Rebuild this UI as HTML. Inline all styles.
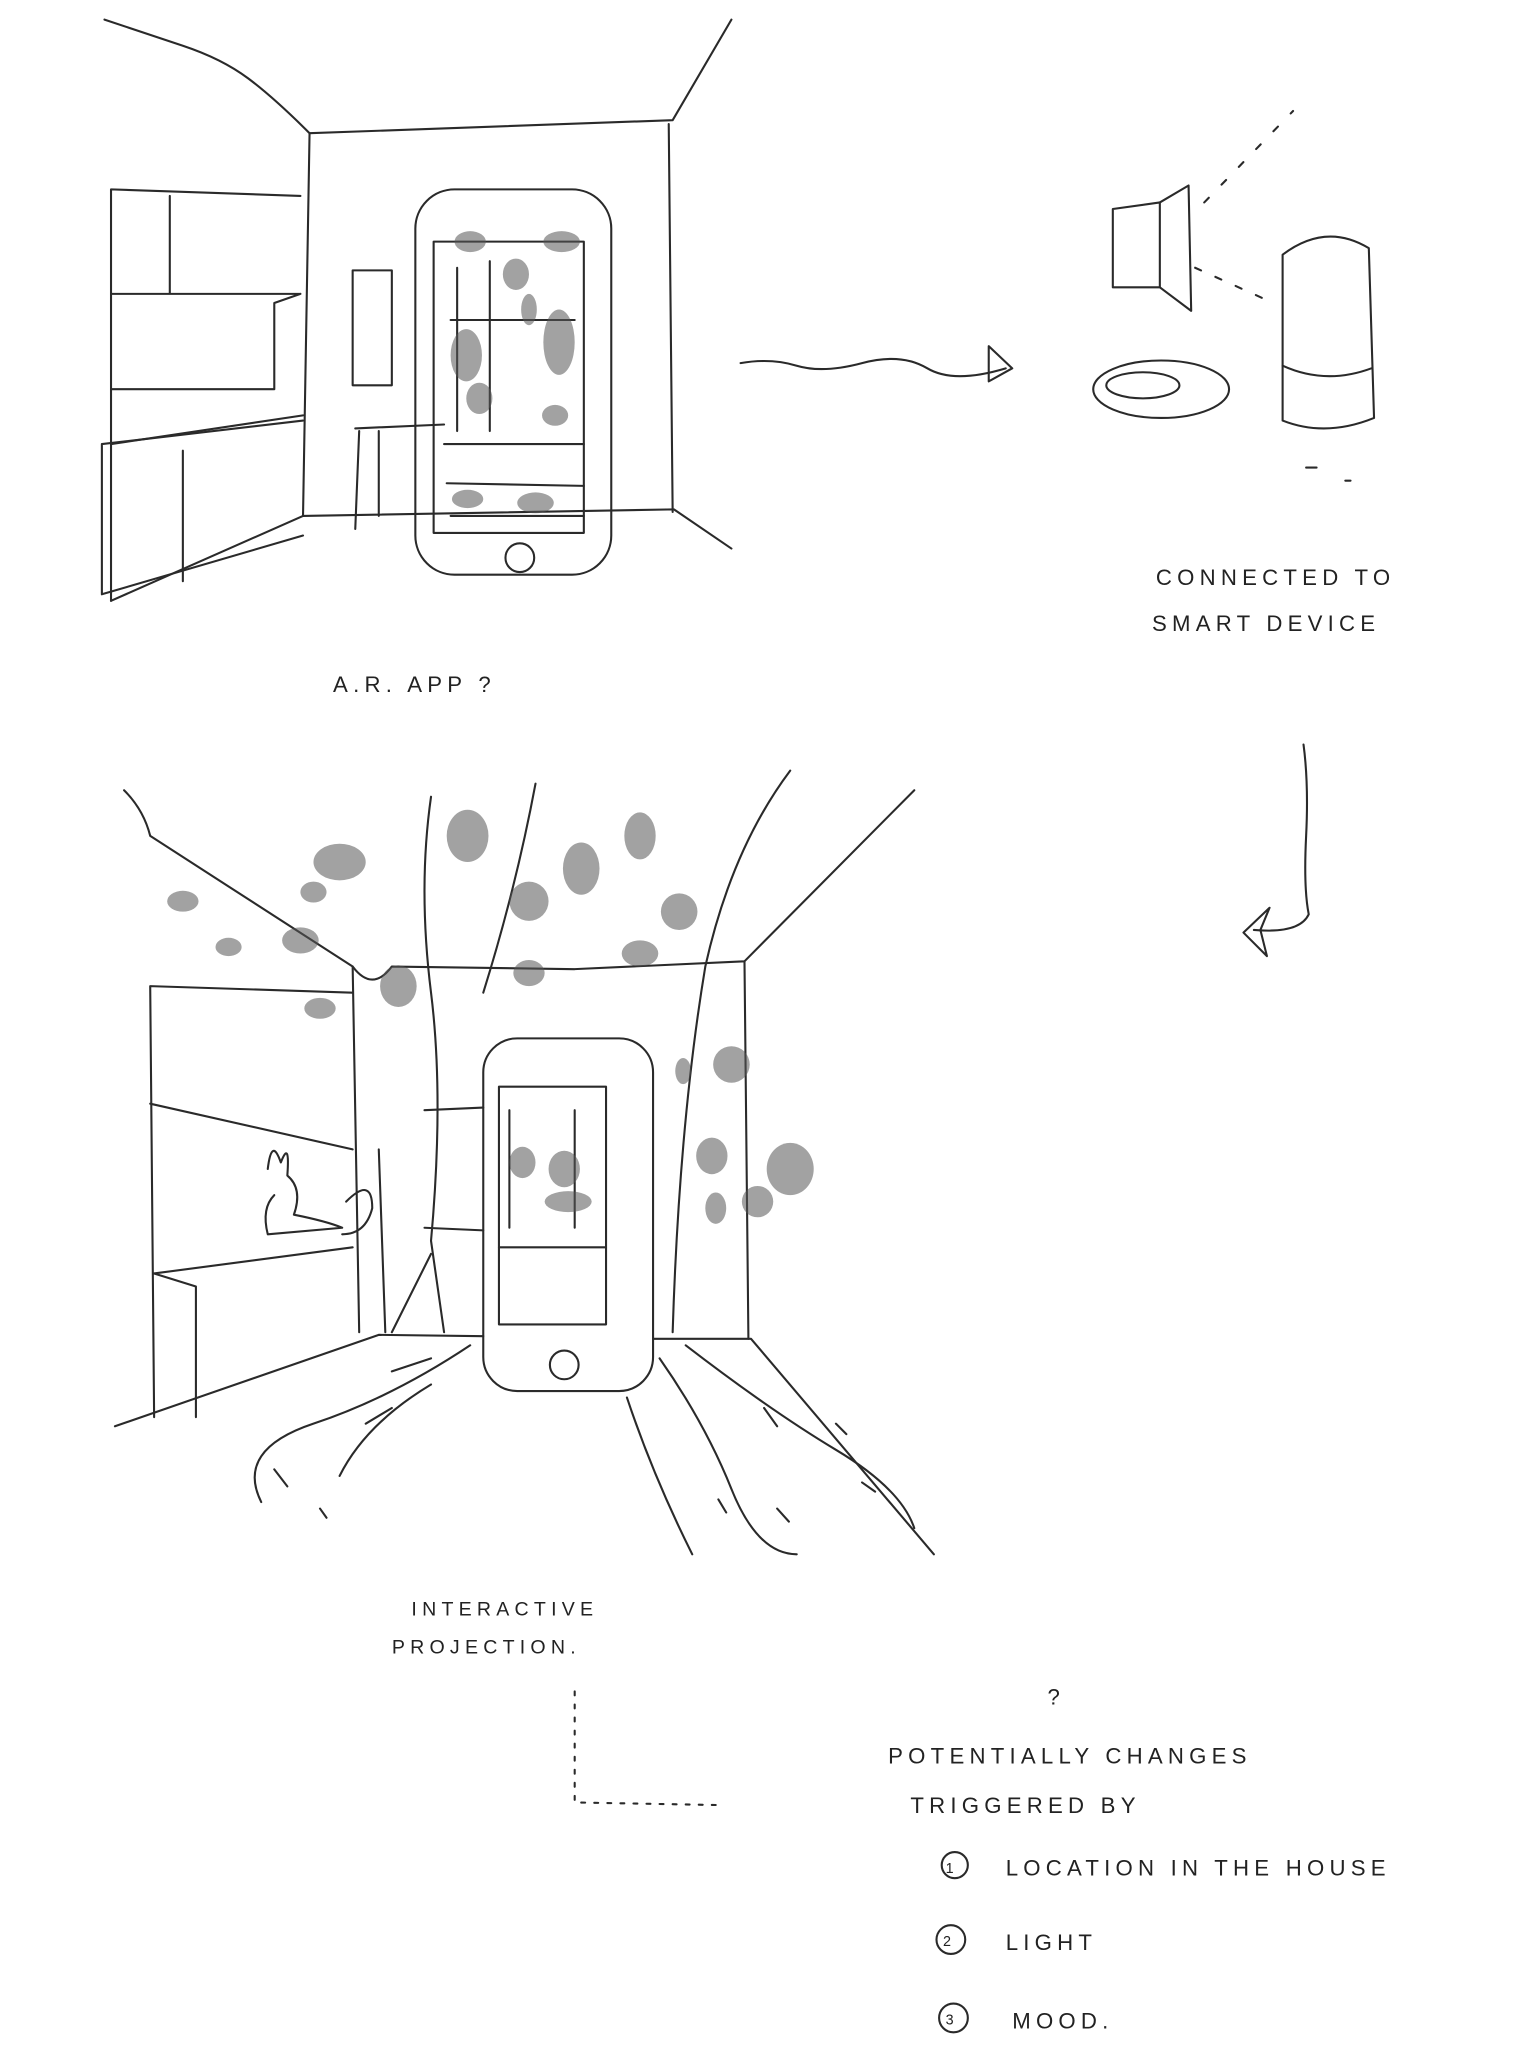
<!DOCTYPE html>
<html><head><meta charset="utf-8"><style>
html,body{margin:0;padding:0;background:#fff;}
svg{display:block;}
text{font-family:"Liberation Sans",sans-serif;fill:#222;letter-spacing:4px;}
</style></head><body>
<svg width="1536" height="2048" viewBox="0 0 1176 1568" xmlns="http://www.w3.org/2000/svg">
<rect width="1176" height="1568" fill="#fff"/>
<g fill="none" stroke="#2a2a2a" stroke-width="1.6" stroke-linecap="round" stroke-linejoin="round">
<!-- TOP ROOM -->
<path d="M80 15 Q110 25 140 35 T190 60 T237 102"/>
<path d="M237 102 L515 92 L560 15"/>
<path d="M237 102 L232 395"/>
<path d="M512 95 L515 392"/>
<path d="M232 395 L516 390 L560 420"/>
<path d="M232 395 L85 460"/>
<!-- cabinets -->
<path d="M85 145 L230 150 M85 145 L85 460 M130 150 L130 225 M85 225 L230 225 M230 225 L210 232 L210 298 M85 298 L210 298"/>
<path d="M78 340 L232 322 M78 340 L78 455 M140 345 L140 445 M78 455 L232 410"/>
<path d="M232 318 L85 340"/>
<!-- window -->
<rect x="270" y="207" width="30" height="88"/>
<!-- table -->
<path d="M272 328 L340 325 M275 330 L272 405 M290 330 L290 395"/>
<!-- phone -->
<rect x="318" y="145" width="150" height="295" rx="30"/>
<rect x="332" y="185" width="115" height="223"/>
<circle cx="398" cy="427" r="11"/>
<path d="M350 205 L350 330 M345 245 L440 245 M375 200 L375 330 M340 340 L447 340 M342 370 L447 372 M345 395 L447 395"/>
<!-- arrow right -->
<path d="M567 278 Q590 274 610 280 T660 278 T710 282 T770 282"/>
<path d="M757 265 L775 282 L757 292 Z"/>
<!-- smart device -->
<path d="M852 160 L888 155 L888 220 L852 220 Z"/>
<path d="M888 155 L910 142 L912 238 L888 220"/>
<path d="M922 155 L990 85" stroke-dasharray="5 14"/>
<path d="M915 205 L975 232" stroke-dasharray="5 12"/>
<path d="M982 195 Q1015 170 1048 190 L1052 320 Q1015 335 982 322 Z"/>
<path d="M982 280 Q1015 295 1050 282"/>
<ellipse cx="889" cy="298" rx="52" ry="22"/>
<ellipse cx="875" cy="295" rx="28" ry="10"/>
<path d="M1000 358 L1008 358 M1030 368 L1034 368"/>
<!-- arrow down -->
<path d="M998 570 Q1002 600 1000 640 T1002 700 Q995 715 960 712"/>
<path d="M972 695 L952 714 L970 732 L965 712 Z"/>
<!-- BOTTOM ROOM -->
<path d="M95 605 Q110 620 115 640 L270 740 Q285 760 300 740 L440 742 L570 736 L700 605"/>
<path d="M270 740 L275 1020 M570 736 L573 1025"/>
<path d="M88 1092 L290 1022 L370 1023 M500 1025 L575 1025 L715 1190"/>
<path d="M115 755 L118 1085 M115 755 L270 760 M115 845 L270 880 M118 975 L270 955 M118 975 L150 985 L150 1085"/>
<path d="M290 880 L295 1020"/>
<path d="M330 610 Q320 680 330 760 T330 950 L340 1020"/>
<path d="M410 600 Q395 680 370 760"/>
<path d="M605 590 Q560 650 540 740 Q520 860 515 1020"/>
<path d="M325 850 L370 848 M325 940 L370 942 M300 1020 Q320 980 330 960"/>
<!-- phone bottom -->
<rect x="370" y="795" width="130" height="270" rx="26"/>
<rect x="382" y="832" width="82" height="182"/>
<circle cx="432" cy="1045" r="11"/>
<path d="M382 955 L464 955 M390 850 L390 940 M440 850 L440 940"/>
<!-- floor ripples -->
<path d="M360 1030 Q300 1070 240 1090 T200 1150"/>
<path d="M330 1060 Q280 1090 260 1130"/>
<path d="M505 1040 Q540 1090 560 1140 T610 1190"/>
<path d="M525 1030 Q590 1080 640 1110 T700 1170"/>
<path d="M480 1070 Q500 1130 530 1190"/>
<path d="M300 1050 L330 1040 M280 1090 L300 1078 M210 1125 L220 1138 M245 1155 L250 1162 M550 1148 L556 1158 M595 1155 L604 1165 M585 1078 L595 1092 M640 1090 L648 1098 M660 1135 L670 1142"/>
<!-- rabbit -->
<path d="M205 895 Q208 870 215 890 Q222 872 220 900 Q232 910 225 930 Q250 935 262 940 L205 945 Q200 925 210 915"/>
<path d="M265 920 Q285 900 285 925 Q280 945 262 945"/>
<!-- dotted connector -->
<path d="M440 1295 L440 1380 L550 1382" stroke-dasharray="3 7"/>
<!-- numbered circles -->
<circle cx="731" cy="1428" r="10"/>
<circle cx="728" cy="1485" r="11"/>
<circle cx="730" cy="1545" r="11"/>
</g>
<!-- leaves -->
<g fill="#555" fill-opacity="0.55">
<ellipse cx="360" cy="185" rx="12" ry="8"/><ellipse cx="430" cy="185" rx="14" ry="8"/><ellipse cx="395" cy="210" rx="10" ry="12"/>
<ellipse cx="357" cy="272" rx="12" ry="20"/><ellipse cx="428" cy="262" rx="12" ry="25"/><ellipse cx="367" cy="305" rx="10" ry="12"/><ellipse cx="425" cy="318" rx="10" ry="8"/><ellipse cx="405" cy="237" rx="6" ry="12"/>
<ellipse cx="358" cy="382" rx="12" ry="7"/><ellipse cx="410" cy="385" rx="14" ry="8"/>
<ellipse cx="358" cy="640" rx="16" ry="20"/><ellipse cx="260" cy="660" rx="20" ry="14"/><ellipse cx="490" cy="640" rx="12" ry="18"/><ellipse cx="445" cy="665" rx="14" ry="20"/>
<ellipse cx="140" cy="690" rx="12" ry="8"/><ellipse cx="240" cy="683" rx="10" ry="8"/><ellipse cx="405" cy="690" rx="15" ry="15"/><ellipse cx="520" cy="698" rx="14" ry="14"/><ellipse cx="305" cy="755" rx="14" ry="16"/>
<ellipse cx="175" cy="725" rx="10" ry="7"/><ellipse cx="230" cy="720" rx="14" ry="10"/><ellipse cx="405" cy="745" rx="12" ry="10"/><ellipse cx="490" cy="730" rx="14" ry="10"/><ellipse cx="245" cy="772" rx="12" ry="8"/>
<ellipse cx="560" cy="815" rx="14" ry="14"/><ellipse cx="523" cy="820" rx="6" ry="10"/><ellipse cx="545" cy="885" rx="12" ry="14"/><ellipse cx="605" cy="895" rx="18" ry="20"/><ellipse cx="580" cy="920" rx="12" ry="12"/><ellipse cx="548" cy="925" rx="8" ry="12"/>
<ellipse cx="400" cy="890" rx="10" ry="12"/><ellipse cx="432" cy="895" rx="12" ry="14"/><ellipse cx="435" cy="920" rx="18" ry="8"/>
</g>
<g font-size="17">
<text x="255" y="530">A.R. APP ?</text>
<text x="885" y="448">CONNECTED TO</text>
<text x="882" y="483">SMART DEVICE</text>
<text x="315" y="1237" font-size="15">INTERACTIVE</text>
<text x="300" y="1266" font-size="15">PROJECTION.</text>
<text x="802" y="1305">?</text>
<text x="680" y="1350">POTENTIALLY CHANGES</text>
<text x="697" y="1388">TRIGGERED BY</text>
<text x="724" y="1434" font-size="11">1</text>
<text x="770" y="1436">LOCATION IN THE HOUSE</text>
<text x="722" y="1490" font-size="11">2</text>
<text x="770" y="1493">LIGHT</text>
<text x="724" y="1550" font-size="11">3</text>
<text x="775" y="1553">MOOD.</text>
</g>
</svg>
</body></html>
